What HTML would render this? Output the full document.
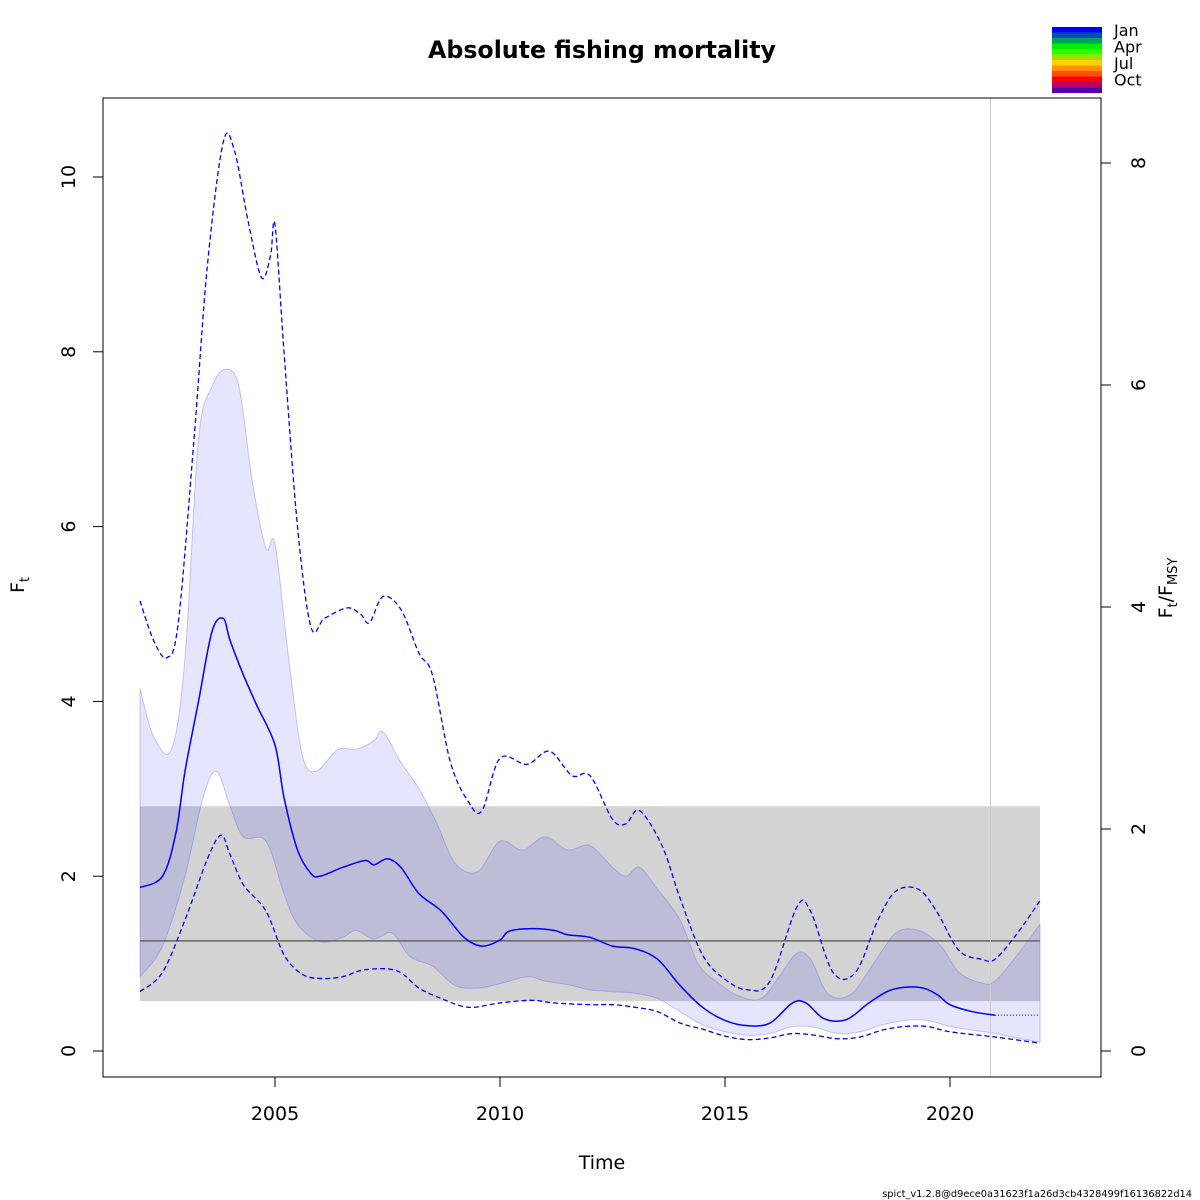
<!DOCTYPE html>
<html><head><meta charset="utf-8"><style>
body{margin:0;background:#fff}
svg{display:block;font-family:"DejaVu Sans","Liberation Sans",sans-serif}
</style></head><body>
<svg id="c" width="1200" height="1200" viewBox="0 0 1200 1200">
<rect width="1200" height="1200" fill="#fff"/>
<text x="602" y="58" text-anchor="middle" font-size="23.7" font-weight="bold">Absolute fishing mortality</text>
<g id="plot"></g>
<rect x="103" y="98" width="998" height="979" fill="none" stroke="#000" stroke-width="1"/>
<g id="axes"></g>
<text x="602" y="1169" text-anchor="middle" font-size="19">Time</text>
<text transform="translate(24,585) rotate(-90)" text-anchor="middle" font-size="19">F<tspan font-size="13" dy="5">t</tspan></text>
<text transform="translate(1172,588) rotate(-90)" text-anchor="middle" font-size="19">F<tspan font-size="13" dy="5">t</tspan><tspan dy="-5">/F</tspan><tspan font-size="13" dy="5">MSY</tspan></text>
<g id="legend"></g>
<text x="1192" y="1197" text-anchor="end" font-size="9.8">spict_v1.2.8@d9ece0a31623f1a26d3cb4328499f16136822d14</text>
</svg>
<script>
const medT=[2002,2002.5,2002.8,2003,2003.3,2003.6,2003.85,2004,2004.3,2004.6,2005,2005.2,2005.5,2005.8,2006,2006.5,2007,2007.2,2007.5,2007.8,2008.2,2008.7,2009.2,2009.6,2010,2010.2,2010.7,2011.2,2011.5,2012,2012.5,2013,2013.5,2014,2014.5,2015,2015.5,2016,2016.5,2016.8,2017.2,2017.7,2018.2,2018.7,2019.3,2019.7,2020,2020.5,2021];
const medF=[1.87,2.0,2.5,3.2,4.0,4.8,4.95,4.7,4.3,3.95,3.5,2.9,2.3,2.03,2.0,2.1,2.18,2.13,2.2,2.1,1.8,1.6,1.3,1.2,1.27,1.37,1.4,1.38,1.33,1.3,1.2,1.17,1.05,0.75,0.5,0.35,0.29,0.32,0.55,0.55,0.37,0.36,0.55,0.7,0.73,0.65,0.53,0.45,0.41];
const predT=[2021,2022];
const predF=[0.41,0.41];
const bandHiT=[2002,2002.3,2002.7,2003,2003.3,2003.6,2003.9,2004.2,2004.5,2004.8,2005,2005.3,2005.6,2005.9,2006.4,2006.8,2007.2,2007.4,2007.8,2008.2,2008.6,2009,2009.5,2010,2010.5,2011,2011.5,2012,2012.5,2012.8,2013.1,2013.5,2014,2014.4,2014.8,2015.3,2015.8,2016.2,2016.6,2016.9,2017.3,2017.8,2018.3,2018.8,2019.3,2019.8,2020.2,2020.7,2021,2021.5,2022];
const bandHiF=[4.15,3.6,3.45,4.5,7.0,7.6,7.8,7.6,6.5,5.75,5.8,4.5,3.4,3.2,3.45,3.45,3.55,3.65,3.3,3.0,2.6,2.15,2.05,2.4,2.3,2.45,2.3,2.35,2.1,2.0,2.1,1.85,1.5,1.0,0.8,0.63,0.6,0.85,1.12,1.05,0.65,0.65,1.0,1.35,1.38,1.2,0.9,0.78,0.8,1.1,1.45];
const bandLoT=[2002,2002.5,2003,2003.4,2003.7,2004,2004.3,2004.8,2005.2,2005.5,2006,2006.5,2006.8,2007.2,2007.6,2008,2008.5,2009,2009.5,2010,2010.6,2011,2011.5,2012,2012.5,2013,2013.5,2014,2014.5,2015,2015.5,2016,2016.5,2017,2017.5,2018,2018.5,2019,2019.5,2020,2020.5,2021,2021.5,2022];
const bandLoF=[0.85,1.2,2.0,2.9,3.2,2.8,2.45,2.4,1.8,1.45,1.25,1.3,1.38,1.28,1.35,1.08,0.97,0.75,0.72,0.77,0.85,0.8,0.76,0.7,0.68,0.66,0.6,0.45,0.3,0.22,0.18,0.2,0.28,0.27,0.2,0.22,0.3,0.35,0.35,0.28,0.24,0.2,0.15,0.1];
const dashHiT=[2002,2002.3,2002.6,2002.85,2003.2,2003.5,2003.85,2004.1,2004.4,2004.7,2004.9,2005,2005.2,2005.5,2005.8,2006.1,2006.6,2006.9,2007.1,2007.4,2007.8,2008.2,2008.5,2008.9,2009.3,2009.6,2010,2010.6,2011.1,2011.6,2012,2012.5,2012.8,2013.1,2013.6,2014,2014.5,2015,2015.5,2016,2016.6,2016.9,2017.4,2017.9,2018.4,2018.8,2019.3,2019.7,2020.2,2020.7,2021,2021.5,2022];
const dashHiF=[5.15,4.7,4.5,4.9,7.0,9.0,10.4,10.3,9.5,8.85,9.1,9.45,8.0,6.0,4.85,4.95,5.07,5.0,4.9,5.2,5.05,4.55,4.3,3.3,2.85,2.75,3.35,3.28,3.43,3.15,3.15,2.65,2.6,2.75,2.35,1.75,1.1,0.82,0.7,0.8,1.65,1.6,0.9,0.9,1.5,1.83,1.85,1.6,1.15,1.05,1.05,1.35,1.72];
const dashLoT=[2002,2002.5,2003,2003.5,2003.8,2004,2004.3,2004.8,2005.2,2005.6,2006,2006.5,2007,2007.7,2008.2,2008.7,2009.3,2010,2010.7,2011.2,2012,2012.5,2013,2013.5,2014,2014.5,2015,2015.5,2016,2016.5,2017,2017.5,2018,2018.5,2019,2019.5,2020,2021,2022];
const dashLoF=[0.68,0.9,1.5,2.2,2.47,2.25,1.9,1.6,1.1,0.88,0.83,0.85,0.93,0.92,0.72,0.6,0.5,0.55,0.58,0.55,0.53,0.53,0.5,0.45,0.32,0.25,0.17,0.13,0.15,0.2,0.18,0.14,0.16,0.24,0.28,0.28,0.22,0.16,0.09];
const fmsy=1.26, fmsyLo=0.57, fmsyHi=2.8, refT=[2002,2022], lastObs=2020.9;
const xTicks=[2005,2010,2015,2020];
const yTicks=[0,2,4,6,8,10];
const rTicks=[0,2,4,6,8];
const months=["Jan","Apr","Jul","Oct"];

const X=t=>275+(t-2005)*45;
const Y=f=>1051-f*87.4;
const YR=r=>1051-r*111;
const NS="http://www.w3.org/2000/svg";
function mk(tag,attrs,parent){const e=document.createElementNS(NS,tag);for(const k in attrs)e.setAttribute(k,attrs[k]);parent.appendChild(e);return e;}
function pts(T,F){return T.map((t,i)=>[X(t),Y(F[i])]);}
function smooth(p,start){let d=start?("M"+p[0][0]+","+p[0][1]):("L"+p[0][0]+","+p[0][1]);
 for(let i=0;i<p.length-1;i++){const p0=p[i-1]||p[i],p1=p[i],p2=p[i+1],p3=p[i+2]||p2;
 d+=`C${p1[0]+(p2[0]-p0[0])/6},${p1[1]+(p2[1]-p0[1])/6} ${p2[0]-(p3[0]-p1[0])/6},${p2[1]-(p3[1]-p1[1])/6} ${p2[0]},${p2[1]}`;}return d;}
const plot=document.getElementById('plot');
let e=mk('rect',{x:X(refT[0]),y:Y(fmsyHi),width:X(refT[1])-X(refT[0]),height:Y(fmsyLo)-Y(fmsyHi),fill:'#d3d3d3'},plot);


const hi=pts(bandHiT,bandHiF), lo=pts(bandLoT,bandLoF).reverse();
e=mk('path',{d:smooth(hi,true)+smooth(lo,false)+'Z',fill:'rgba(0,0,255,0.1)',stroke:'rgba(100,100,255,0.35)','stroke-width':1},plot);


e=mk('line',{x1:X(refT[0]),x2:X(refT[1]),y1:Y(fmsy),y2:Y(fmsy),stroke:'#666','stroke-width':1.5},plot);


e=mk('line',{x1:X(lastObs),x2:X(lastObs),y1:98,y2:1077,stroke:'#ccc','stroke-width':1},plot);


e=mk('path',{d:smooth(pts(dashHiT,dashHiF),true),fill:'none',stroke:'#00f','stroke-width':1.3,'stroke-dasharray':'5,3'},plot);


e=mk('path',{d:smooth(pts(dashLoT,dashLoF),true),fill:'none',stroke:'#00f','stroke-width':1.3,'stroke-dasharray':'5,3'},plot);


e=mk('path',{d:smooth(pts(medT,medF),true),fill:'none',stroke:'#00f','stroke-width':1.5},plot);


e=mk('path',{d:smooth(pts(predT,predF),true),fill:'none',stroke:'#00f','stroke-width':1,'stroke-dasharray':'1,2'},plot);


const ax=document.getElementById('axes');
xTicks.forEach(t=>{
 e=mk('line',{x1:X(t),x2:X(t),y1:1077,y2:1087,stroke:'#000'},ax);
 
 
 e=mk('text',{x:X(t),y:1120,'text-anchor':'middle','font-size':19},ax);e.textContent=t;
 
 
});
yTicks.forEach(v=>{
 e=mk('line',{x1:93,x2:103,y1:Y(v),y2:Y(v),stroke:'#000'},ax);
 
 
 e=mk('text',{transform:`translate(75,${Y(v)}) rotate(-90)`,'text-anchor':'middle','font-size':19},ax);e.textContent=v;
 
 
});
rTicks.forEach(v=>{
 e=mk('line',{x1:1101,x2:1111,y1:YR(v),y2:YR(v),stroke:'#000'},ax);
 
 
 e=mk('text',{transform:`translate(1145,${YR(v)}) rotate(-90)`,'text-anchor':'middle','font-size':19},ax);e.textContent=v;
 
 
});
const cols=['#0000ff','#0050b0','#00a060','#00ee00','#30ff00','#a0e000','#ffd000','#ff9000','#ff5000','#ff0000','#c00060','#5000b0'];
const lg=document.getElementById('legend');
cols.forEach((c,i)=>{e=mk('rect',{x:1052,y:27+i*5.5,width:50,height:5.6,fill:c},lg);
 
 });
months.forEach((m,i)=>{e=mk('text',{x:1114,y:36+i*16.5,'font-size':16},lg);e.textContent=m;
 
 });
</script>
</body></html>
